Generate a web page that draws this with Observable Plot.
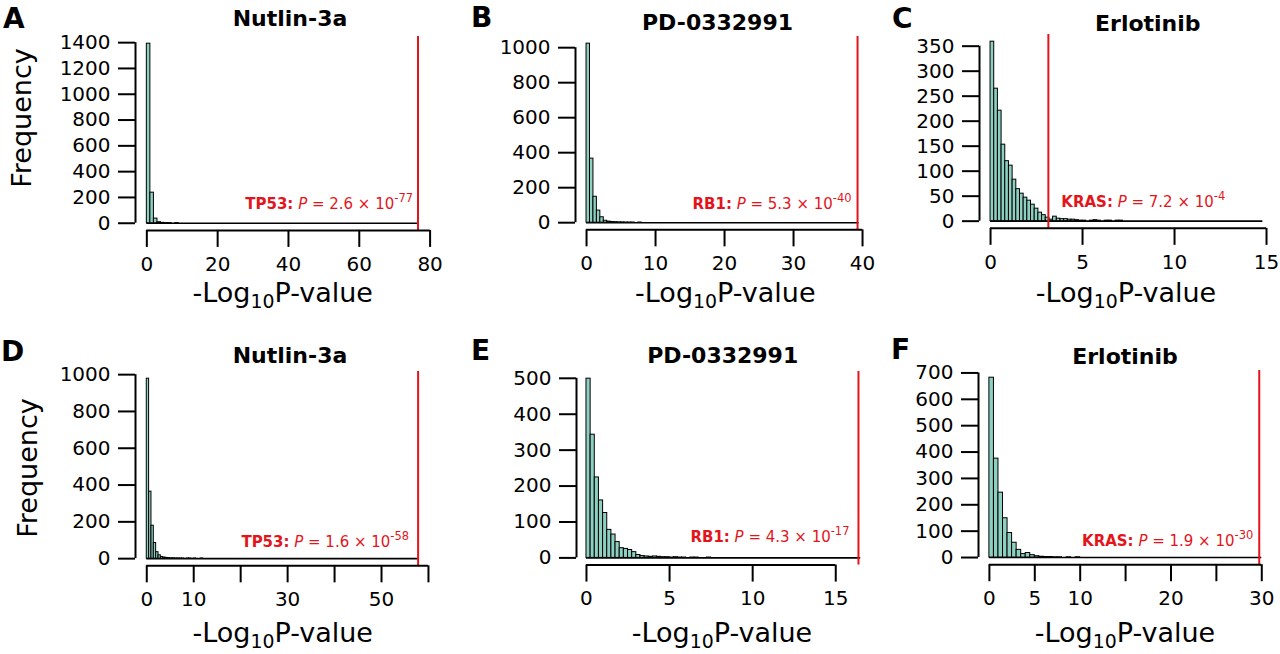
<!DOCTYPE html>
<html><head><meta charset="utf-8">
<script src="https://cdn.jsdelivr.net/npm/d3@7"></script>
<script src="https://cdn.jsdelivr.net/npm/@observablehq/plot@0.6"></script>
<style>
html,body{margin:0;padding:0;background:#fff;}
#fig{position:relative;width:1280px;height:654px;overflow:hidden;font-family:"DejaVu Sans",sans-serif;color:#000;background:#fff;}
.abs{position:absolute;white-space:nowrap;line-height:1;}
.letter{font-weight:bold;}
.title{font-weight:bold;transform:translateX(-50%);}
.xlab{transform:translateX(-50%);}
.xlab sub{font-size:0.7em;line-height:0;vertical-align:-0.3em;}
.ylab{transform:translate(-50%,-50%) rotate(-90deg);}
</style>
</head><body><div id="fig"></div>
<script>
// ---------- data ----------
const panelLetters = ["A","B","C","D","E","F"];
const drugs = ["Nutlin-3a","PD-0332991","Erlotinib","Nutlin-3a","PD-0332991","Erlotinib"];
const genes = ["TP53","RB1","KRAS","TP53","RB1","KRAS"];
const pMantissa = [2.6, 5.3, 7.2, 1.6, 4.3, 1.9];
const pExponent = [-77, -40, -4, -58, -17, -30];
const binWidth = [1, 0.5, 0.2, 0.5, 0.25, 0.5];
const countsA = [1392, 237, 36, 8, 3, 1, 1, 0, 1];
const countsB = [1023, 366, 148, 69, 31, 11, 6, 4, 3, 2, 2, 1, 1, 1, 0, 1];
const countsC = [359, 265, 221, 153, 120, 111, 83, 64, 55, 47, 41, 33, 25, 17, 12, 7, 3, 9, 5, 4, 4, 3, 3, 2, 1, 1, 0, 1, 2, 1, 0, 1, 1, 0, 1, 1];
const countsD = [978, 364, 179, 85, 35, 18, 9, 6, 4, 3, 2, 2, 1, 1, 1, 1, 0, 1, 1, 0, 1, 0, 0, 1];
const countsE = [499, 343, 224, 160, 125, 78, 65, 44, 27, 25, 22, 16, 8, 5, 4, 3, 4, 3, 2, 2, 1, 2, 1, 1, 0, 1, 1, 0, 0, 1];
const countsF = [682, 375, 246, 149, 93, 56, 29, 13, 17, 9, 5, 3, 2, 2, 1, 1, 0, 1, 0, 1];
const counts = [countsA, countsB, countsC, countsD, countsE, countsF];
const dataMax = [77, 39.5, 14.8, 58, 16.5, 30];
const xLim = [80, 40, 15, 60, 15, 30];
const xTicks = [[0,20,40,60,80],[0,10,20,30,40],[0,5,10,15],[0,10,20,30,40,50,60],[0,5,10,15],[0,5,10,15,20,25,30]];
const xTickLabels = [[0,20,40,60,80],[0,10,20,30,40],[0,5,10,15],[0,10,30,50],[0,5,10,15],[0,5,10,20,30]];
const yTicks = [[0,200,400,600,800,1000,1200,1400],[0,200,400,600,800,1000],[0,50,100,150,200,250,300,350],[0,200,400,600,800,1000],[0,100,200,300,400,500],[0,100,200,300,400,500,600,700]];
const yLabel = "Frequency";

// ---------- layout (pixels) ----------
const layout = [
  {x0:146.7, kx:3.541, y0:222.3, ky:0.1290, labDx:-5, labDy:-14, anchor:"end",
   letterX:3, letterBase:28.3, titleX:290, titleBase:27, xlabX:282.7, xlabBase:301.7, ylabX:30, ylabY:117.5},
  {x0:586.0, kx:6.90, y0:221.7, ky:0.1750, labDx:-6, labDy:-14, anchor:"end",
   letterX:471, letterBase:27.7, titleX:717.5, titleBase:30.7, xlabX:725.3, xlabBase:301.7},
  {x0:990.0, kx:18.40, y0:221.0, ky:0.5000, labDx:13, labDy:-14, anchor:"start",
   letterX:892, letterBase:28.3, titleX:1147.8, titleBase:31.7, xlabX:1126, xlabBase:301.7},
  {x0:146.7, kx:4.695, y0:558.3, ky:0.1840, labDx:-9, labDy:-12, anchor:"end",
   letterX:1, letterBase:361.7, titleX:290, titleBase:363.3, xlabX:282.7, xlabBase:641.7, ylabX:36.5, ylabY:467.5},
  {x0:585.7, kx:16.62, y0:557.3, ky:0.3592, labDx:-9, labDy:-16, anchor:"end",
   letterX:471, letterBase:360.7, titleX:722.7, titleBase:363.3, xlabX:722, xlabBase:641.7},
  {x0:989.3, kx:9.08, y0:557.3, ky:0.2637, labDx:-6, labDy:-12, anchor:"end",
   letterX:891, letterBase:360, titleX:1125, titleBase:364.3, xlabX:1125, xlabBase:641.7}
];
const RED = "#e4141b";
const FILL = "#8dd0c1";
const ML = 135, MR = 40, MT = 10, MB = 50;
const fig = document.getElementById("fig");

function addText(html, cls, left, baseline, fs) {
  const d = document.createElement("div");
  d.className = "abs " + cls;
  d.innerHTML = html;
  d.style.fontSize = fs + "px";
  d.style.left = left + "px";
  d.style.top = (baseline - 0.846 * fs) + "px";
  fig.appendChild(d);
  return d;
}

for (let i = 0; i < 6; i++) {
  const L = layout[i];
  const cts = counts[i], bw = binWidth[i];
  const ymax = d3.max(cts);
  const xlim = xLim[i];
  const xlo = -0.04 * xlim, xhi = 1.04 * xlim + (i === 4 ? 2 : 0);
  const ylo = -0.04 * ymax, yhi = 1.04 * ymax;
  const fw = (xhi - xlo) * L.kx, fh = (yhi - ylo) * L.ky;
  const fl = L.x0 + xlo * L.kx, ft = L.y0 - yhi * L.ky;
  const W = ML + fw + MR, H = MT + fh + MB;
  const pval = -Math.log10(pMantissa[i]) - pExponent[i];
  const bars = cts.map((c, j) => ({x1: j * bw, x2: (j + 1) * bw, count: c})).filter(d => d.count > 0);
  const xt = xTicks[i], yt = yTicks[i], xl = xTickLabels[i];
  const chart = Plot.plot({
    width: W, height: H,
    marginLeft: ML, marginRight: MR, marginTop: MT, marginBottom: MB,
    x: {domain: [xlo, xhi]},
    y: {domain: [ylo, yhi]},
    style: {background: "transparent", fontFamily: "DejaVu Sans", fontSize: "20px", color: "black", overflow: "visible"},
    marks: [
      Plot.ruleY([0], {x1: 0, x2: dataMax[i], stroke: "black", strokeWidth: 1.6}),
      Plot.rect(bars, {x1: "x1", x2: "x2", y1: 0, y2: "count", fill: FILL, stroke: "black", strokeWidth: 1}),
      Plot.ruleX([pval], {stroke: RED, strokeWidth: 2}),
      Plot.text([pval], {x: d => d, y: 0, text: d => genes[i], textAnchor: L.anchor, dx: L.labDx, dy: L.labDy,
        lineAnchor: "bottom", fill: RED, fontSize: 15}),
      Plot.ruleY([ylo], {x1: xt[0], x2: xt[xt.length - 1], stroke: "black", strokeWidth: 2}),
      Plot.ruleX([xlo], {y1: yt[0], y2: yt[yt.length - 1], stroke: "black", strokeWidth: 2}),
      Plot.axisX({ticks: xt, tickSize: 17, tickPadding: 9, strokeWidth: 2, label: null,
        tickFormat: d => xl.includes(d) ? String(d) : ""}),
      Plot.axisY({ticks: yt, tickSize: 17, tickPadding: 8, strokeWidth: 2, label: null,
        tickFormat: d => String(d)})
    ]
  });
  chart.style.position = "absolute";
  chart.style.left = (fl - ML) + "px";
  chart.style.top = (ft - MT) + "px";
  fig.appendChild(chart);

  // rich red annotation: bold gene, italic P, superscript exponent
  const t = chart.querySelector('g[aria-label="text"] text');
  if (t) {
    const s = d3.select(t);
    s.text(null);
    s.append("tspan").attr("font-weight", "bold").text(genes[i] + ":");
    s.append("tspan").text(" ");
    s.append("tspan").attr("font-style", "italic").text("P");
    s.append("tspan").text(" = " + pMantissa[i].toFixed(1) + " \u00d7 10");
    s.append("tspan").attr("font-size", "11.5px").attr("dy", "-7").text(String(pExponent[i]));
  }

  addText(panelLetters[i], "letter", L.letterX, L.letterBase, 28);
  addText(drugs[i], "title", L.titleX, L.titleBase, 22);
  addText("-Log<sub>10</sub>P-value", "xlab", L.xlabX, L.xlabBase, 27);
  if (L.ylabX !== undefined) {
    const fs = 27;
    const d = document.createElement("div");
    d.className = "abs ylab";
    d.textContent = yLabel;
    d.style.fontSize = fs + "px";
    d.style.left = (L.ylabX - 0.346 * fs) + "px";
    d.style.top = L.ylabY + "px";
    fig.appendChild(d);
  }
}
</script>
</body></html>
